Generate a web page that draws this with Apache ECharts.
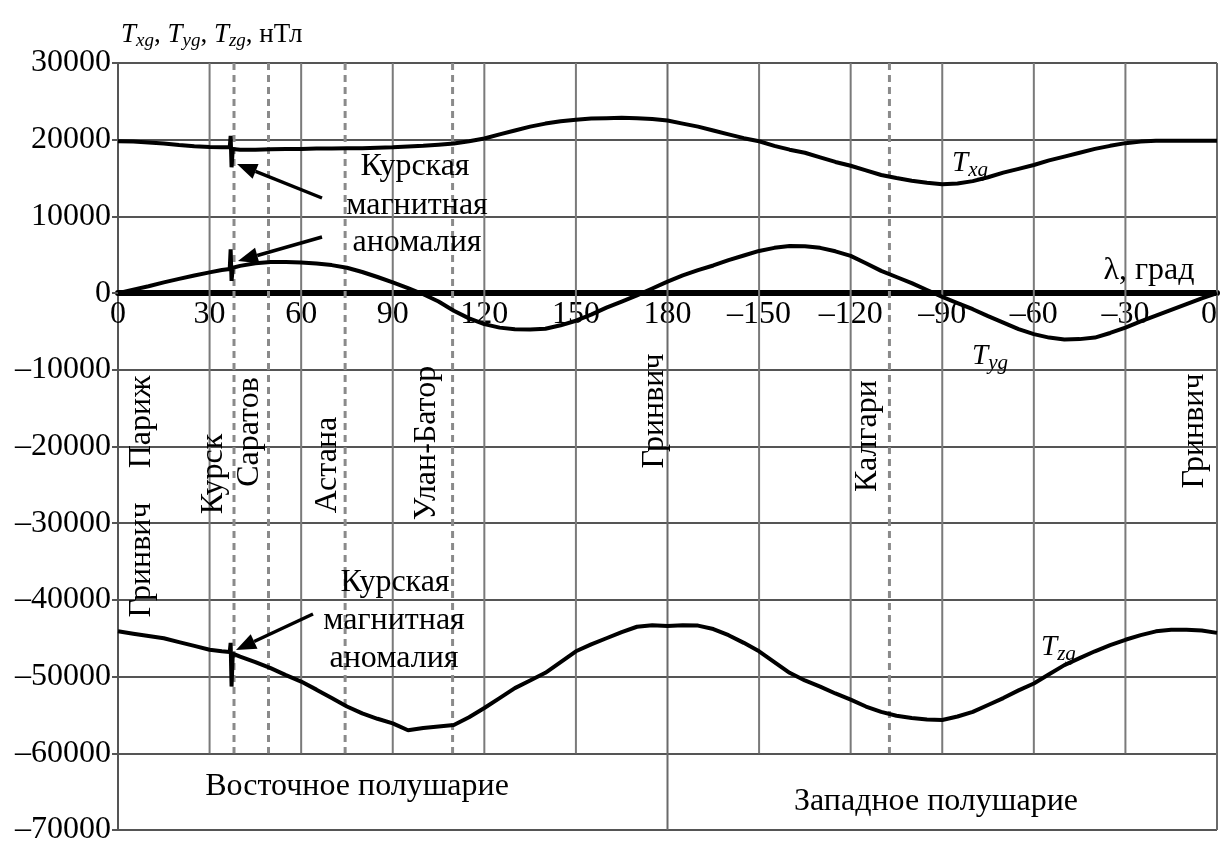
<!DOCTYPE html>
<html><head><meta charset="utf-8">
<script src="https://cdn.jsdelivr.net/npm/echarts/dist/echarts.min.js"></script>
<style>html,body{margin:0;padding:0;background:#fff}#c{width:1220px;height:844px}</style>
</head><body><div id="c"></div>
<script>
// longitude measured eastward from Greenwich, 0..360
const lon = [0,5,10,15,20,25,30,34,36.6,36.9,37.2,37.6,40,45,50,55,60,65,70,75,80,85,90,95,100,105,110,115,120,125,130,135,140,145,150,155,160,165,170,175,180,185,190,195,200,205,210,215,220,225,230,235,240,245,250,255,260,265,270,275,280,285,290,295,300,305,310,315,320,325,330,335,340,345,350,355,360];
const txg = [19800,19750,19650,19500,19300,19150,19050,19000,19000,20500,16400,18800,18700,18700,18750,18800,18800,18850,18850,18900,18900,18950,19000,19100,19200,19350,19500,19800,20150,20700,21200,21700,22100,22400,22600,22750,22800,22850,22800,22700,22500,22100,21700,21200,20700,20200,19800,19200,18700,18300,17700,17100,16600,16000,15400,15000,14650,14400,14200,14300,14600,15100,15700,16200,16700,17300,17800,18300,18800,19200,19550,19750,19850,19850,19850,19850,19850];
const tyg = [0,450,900,1400,1850,2300,2700,3000,3150,5700,1600,3300,3550,3900,4050,4050,4000,3850,3650,3300,2750,2100,1400,650,-150,-1100,-2300,-3300,-4050,-4500,-4700,-4750,-4650,-4200,-3600,-2800,-1900,-1100,-300,600,1500,2300,3000,3600,4300,4900,5500,5900,6150,6100,5900,5450,4850,3900,2900,2100,1300,400,-500,-1300,-2100,-3000,-3850,-4700,-5350,-5800,-6050,-6000,-5800,-5200,-4500,-3700,-2950,-2200,-1450,-700,0];
const tzg = [-44100,-44400,-44700,-45000,-45500,-46000,-46500,-46700,-46800,-45600,-51300,-47000,-47400,-48100,-48900,-49800,-50650,-51700,-52800,-53900,-54800,-55500,-56100,-57000,-56700,-56500,-56300,-55300,-54100,-52800,-51500,-50500,-49500,-48100,-46700,-45800,-45000,-44200,-43500,-43300,-43400,-43300,-43350,-43800,-44600,-45600,-46700,-48100,-49500,-50500,-51300,-52200,-53000,-53900,-54600,-55100,-55400,-55600,-55650,-55200,-54600,-53700,-52800,-51800,-50900,-49700,-48500,-47600,-46700,-45900,-45200,-44600,-44100,-43900,-43900,-44000,-44300];
const xTickLabels = ['0','30','60','90','120','150','180','\u2013150','\u2013120','\u201390','\u201360','\u201330','0'];
const gridLon = [30,60,90,120,150,210,240,270,300,330];
const fullLon = [180,360];
const cityLon = [38,49.3,74.4,109.6,252.7];
const yTop = 30000, yBandTop = -60000, yBottom = -70000;

const FONT = "'Liberation Serif','Times New Roman',serif";
const GRID = {left:118, right:3, top:63, bottom:14};
const plotH = 844 - GRID.top - GRID.bottom;
const zeroOffset = plotH * (0 - yBottom) / (yTop - yBottom);

const chart = echarts.init(document.getElementById('c'));

function vline(x, y0, y1, color, type, width){
  return {type:'line', silent:true, symbol:'none', animation:false, z:1,
    data:[[x,y0],[x,y1]], lineStyle:{color:color, width:width, type:type}};
}
function curve(vals){
  return {type:'line', silent:true, symbol:'none', animation:false, z:5,
    data: lon.map((l,i)=>[l, vals[i]]), lineStyle:{color:'#000', width:4}};
}
const series = [];
gridLon.forEach(x=>series.push(vline(x, yTop, yBandTop, '#7a7a7a', 'solid', 2)));
fullLon.forEach(x=>series.push(vline(x, yTop, yBottom, '#6a6a6a', 'solid', 2)));
cityLon.forEach(x=>series.push(vline(x, yTop, yBandTop, '#8a8a8a', [7,5], 3)));
series.push(curve(txg), curve(tyg), curve(tzg));

function txt(text, x, y, rot, size){
  return {type:'text', x:x, y:y, rotation: rot||0, z:10,
    style:{text:text, fontFamily:FONT, fontSize:size||32, fill:'#000',
      align:'center', verticalAlign:'middle', textAlign:'center', textVerticalAlign:'middle'}};
}
function tLabel(sub, x, y){
  return {type:'text', x:x, y:y, z:10,
    style:{text:'{t|T}{s|'+sub+'}', fontFamily:FONT, fill:'#000',
      rich:{t:{fontFamily:FONT, fontStyle:'italic', fontSize:29, lineHeight:35, verticalAlign:'middle'},
            s:{fontFamily:FONT, fontStyle:'italic', fontSize:21, lineHeight:21, verticalAlign:'bottom'}}}};
}
function arrow(x1,y1,x2,y2){
  const a = Math.atan2(y2-y1, x2-x1), L = 20, W = 8;
  const bx = x2 - L*Math.cos(a), by = y2 - L*Math.sin(a);
  const px = -Math.sin(a)*W, py = Math.cos(a)*W;
  return [
    {type:'line', z:10, shape:{x1:x1,y1:y1,x2:bx,y2:by}, style:{stroke:'#000', lineWidth:3.5}},
    {type:'polygon', z:10, shape:{points:[[x2,y2],[bx+px,by+py],[bx-px,by-py]]}, style:{fill:'#000'}}
  ];
}
const R = Math.PI/2;
const graphics = [
  {type:'text', x:121, y:19, z:10, style:{text:'{t|T}{s|xg}{n|, }{t|T}{s|yg}{n|, }{t|T}{s|zg}{n|, нТл}', fill:'#000',
    rich:{t:{fontFamily:FONT, fontStyle:'italic', fontSize:27, lineHeight:31, verticalAlign:'middle'},
          s:{fontFamily:FONT, fontStyle:'italic', fontSize:19, lineHeight:19, verticalAlign:'bottom'},
          n:{fontFamily:FONT, fontSize:27, lineHeight:31, verticalAlign:'middle'}}}},
  txt('λ, град', 1149, 271),
  tLabel('xg', 952, 146), tLabel('yg', 972, 339), tLabel('zg', 1041, 630),
  txt('Курская', 415, 167), txt('магнитная', 417, 206), txt('аномалия', 417, 243),
  txt('Курская', 395, 583), txt('магнитная', 394, 621), txt('аномалия', 394, 659),
  txt('Париж', 142, 422, R), txt('Гринвич', 142, 560, R),
  txt('Курск', 214, 474, R), txt('Саратов', 250, 432, R),
  txt('Астана', 328, 465, R), txt('Улан-Батор', 427, 443, R),
  txt('Гринвич', 655, 411, R), txt('Калгари', 868, 436, R), txt('Гринвич', 1195, 431, R),
  txt('Восточное полушарие', 357, 787), txt('Западное полушарие', 936, 802)
].concat(arrow(322,198,237,164), arrow(322,237,238,261), arrow(313,614,236,650));

chart.setOption({
  animation:false,
  backgroundColor:'#fff',
  grid:{left:GRID.left, right:GRID.right, top:GRID.top, bottom:GRID.bottom, containLabel:false, outerBoundsMode:'none'},
  xAxis:{type:'value', min:0, max:360, interval:30, position:'bottom', offset:-zeroOffset,
    axisLine:{onZero:false, lineStyle:{color:'#000', width:6}},
    axisTick:{show:false},
    axisLabel:{margin:5, fontFamily:FONT, fontSize:32, color:'#000', alignMaxLabel:'right',
      formatter:v=>xTickLabels[Math.round(v/30)]},
    splitLine:{show:false}},
  yAxis:{type:'value', min:yBottom, max:yTop, interval:10000,
    axisLine:{show:true, lineStyle:{color:'#555', width:2}},
    axisTick:{show:true, length:6, lineStyle:{color:'#555', width:2}},
    axisLabel:{margin:7, fontFamily:FONT, fontSize:32, color:'#000',
      formatter:v=>v<0?'\u2013'+Math.abs(v):String(v)},
    splitLine:{show:true, lineStyle:{color:'#555', width:2}}},
  series:series,
  graphic:graphics
});
</script></body></html>
